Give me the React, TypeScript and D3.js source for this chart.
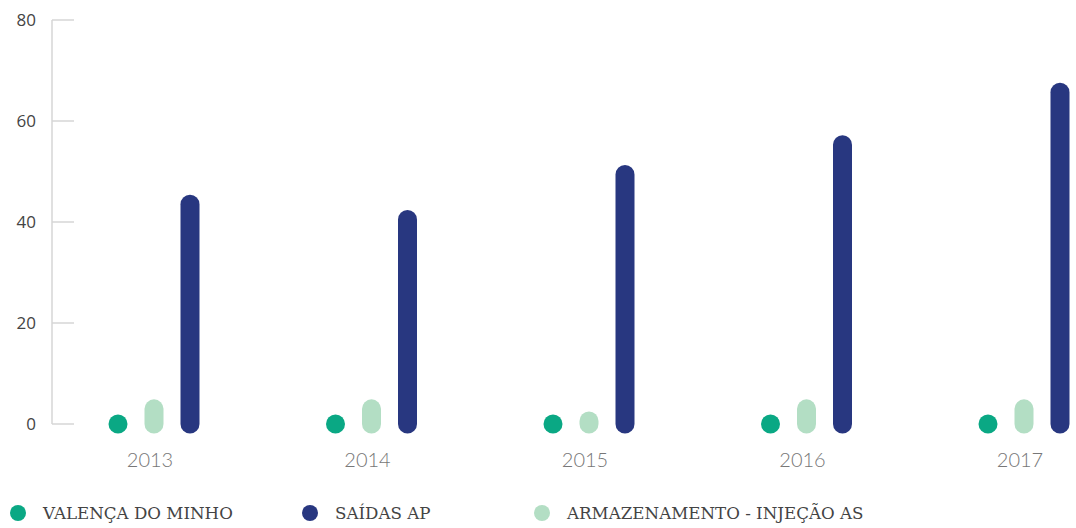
import React from "react";
import * as d3 from "d3";

const years = ["2013", "2014", "2015", "2016", "2017"];
const seriesNames = ["VALENÇA DO MINHO", "SAÍDAS AP", "ARMAZENAMENTO - INJEÇÃO AS"];
const valenca = [0, 0, 0, 0, 0];
const saidas = [43.5, 40.5, 49.4, 55.3, 65.7];
const armazenamento = [3, 3, 0.6, 3, 3];
const yTicks = [0, 20, 40, 60, 80];

const colors: Record<string, string> = {
  "VALENÇA DO MINHO": "#0aa884",
  "SAÍDAS AP": "#283780",
  "ARMAZENAMENTO - INJEÇÃO AS": "#b3dec4",
};

export default function App() {
  const W = 1076, H = 528;
  const y = d3.scaleLinear().domain([0, 80]).range([424, 20]);
  const x = d3.scalePoint<string>().domain(years).range([154, 1024]);
  const drawOrder = ["VALENÇA DO MINHO", "ARMAZENAMENTO - INJEÇÃO AS", "SAÍDAS AP"];
  const inner = d3.scalePoint<string>().domain(drawOrder).range([-36, 36]);
  const dataBy: Record<string, number[]> = {
    "VALENÇA DO MINHO": valenca,
    "SAÍDAS AP": saidas,
    "ARMAZENAMENTO - INJEÇÃO AS": armazenamento,
  };
  const legendX = [18, 310, 542];
  return (
    <svg width={W} height={H} style={{ position: "absolute", left: 0, top: 0 }}>
      <line x1={52} x2={52} y1={y(80)} y2={y(0)} stroke="#d6d6d6" strokeWidth={1.5} />
      {yTicks.map((t) => (
        <g key={t}>
          <line x1={52} x2={74} y1={y(t)} y2={y(t)} stroke="#d6d6d6" strokeWidth={1.5} />
          <text x={36} y={y(t)} dy="0.35em" textAnchor="end" fontFamily="Open Sans, sans-serif" fontSize={17} fill="#444">
            {t}
          </text>
        </g>
      ))}
      {years.map((yr, i) => (
        <g key={yr}>
          {drawOrder.map((s) => {
            const cx = (x(yr) as number) + (inner(s) as number);
            const v = dataBy[s][i];
            return (
              <line
                key={s}
                x1={cx}
                x2={cx}
                y1={y(0)}
                y2={y(v)}
                stroke={colors[s]}
                strokeWidth={19}
                strokeLinecap="round"
              />
            );
          })}
          <text x={(x(yr) as number) - 4} y={460} dy="0.35em" textAnchor="middle" fontFamily="Lato, sans-serif" fontWeight={300} fontSize={20} fill="#777">
            {yr}
          </text>
        </g>
      ))}
      {seriesNames.map((s, i) => (
        <g key={s}>
          <circle cx={legendX[i]} cy={513} r={8} fill={colors[s]} />
          <text x={legendX[i] + 25} y={513} dy="0.35em" fontFamily="DejaVu Serif, serif" fontSize={16.7} fill="#444">
            {s}
          </text>
        </g>
      ))}
    </svg>
  );
}
